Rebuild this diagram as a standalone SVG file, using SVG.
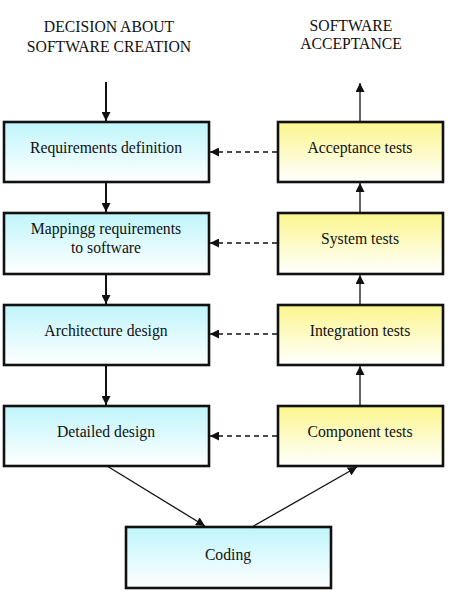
<svg xmlns="http://www.w3.org/2000/svg" width="452" height="592" viewBox="0 0 452 592">
<style>
text{fill:#111;text-anchor:middle}
.t{font-size:15.7px}
.h{font-size:15.7px}
.bl{fill:url(#gb);stroke:#111;stroke-width:2.6}
.yl{fill:url(#gy);stroke:#111;stroke-width:2.6}
.sol{stroke:#111;stroke-width:2;fill:none}
.thin{stroke:#111;stroke-width:1.3;fill:none}
.dash{stroke:#111;stroke-width:1.5;stroke-dasharray:5,4;fill:none}
</style>
<defs>
<linearGradient id="gb" x1="0" y1="0" x2="0" y2="1"><stop offset="0" stop-color="#bff5fb"/><stop offset="1" stop-color="#ffffff"/></linearGradient>
<linearGradient id="gy" x1="0" y1="0" x2="0" y2="1"><stop offset="0" stop-color="#fbf68c"/><stop offset="1" stop-color="#ffffff"/></linearGradient>
<marker id="ah" viewBox="0 0 10 10" refX="10" refY="5" markerWidth="9" markerHeight="9" markerUnits="userSpaceOnUse" orient="auto"><path d="M0,0 L10,5 L0,10 z" fill="#111"/></marker>
</defs>
<rect width="452" height="592" fill="#fff"/>
<g font-family="Liberation Serif, DejaVu Serif, serif">
<g id="titles">
<text class="h" x="109" y="32">DECISION ABOUT</text>
<text class="h" x="109" y="52">SOFTWARE CREATION</text>
<text class="h" x="351" y="31">SOFTWARE</text>
<text class="h" x="351" y="49">ACCEPTANCE</text>
</g>
<g id="connectors">
<line class="sol" x1="106" y1="82" x2="106" y2="121" marker-end="url(#ah)"/>
<line class="sol" x1="106" y1="182" x2="106" y2="212" marker-end="url(#ah)"/>
<line class="sol" x1="106" y1="274" x2="106" y2="304" marker-end="url(#ah)"/>
<line class="sol" x1="106" y1="365" x2="106" y2="405" marker-end="url(#ah)"/>
<line class="thin" x1="107" y1="466" x2="205" y2="526" marker-end="url(#ah)"/>
<line class="thin" x1="252" y1="527" x2="357" y2="467" marker-end="url(#ah)"/>
<line class="thin" x1="360" y1="406" x2="360" y2="366" marker-end="url(#ah)"/>
<line class="thin" x1="360" y1="305" x2="360" y2="275" marker-end="url(#ah)"/>
<line class="thin" x1="360" y1="213" x2="360" y2="183" marker-end="url(#ah)"/>
<line class="thin" x1="360" y1="122" x2="360" y2="83" marker-end="url(#ah)"/>
<line class="dash" x1="277" y1="152" x2="210" y2="152" marker-end="url(#ah)"/>
<line class="dash" x1="277" y1="243" x2="210" y2="243" marker-end="url(#ah)"/>
<line class="dash" x1="277" y1="334" x2="210" y2="334" marker-end="url(#ah)"/>
<line class="dash" x1="277" y1="436" x2="210" y2="436" marker-end="url(#ah)"/>
</g>
<g id="req"><rect class="bl" x="4" y="122" width="205" height="60"/><text class="t" x="106" y="153">Requirements definition</text></g>
<g id="map"><rect class="bl" x="4" y="213" width="205" height="61"/><text class="t" x="106" y="234">Mappingg requirements</text><text class="t" x="106" y="253">to software</text></g>
<g id="arch"><rect class="bl" x="4" y="305" width="205" height="60"/><text class="t" x="106" y="336">Architecture design</text></g>
<g id="det"><rect class="bl" x="4" y="406" width="205" height="60"/><text class="t" x="106" y="437">Detailed design</text></g>
<g id="coding"><rect class="bl" x="126" y="527" width="205" height="61"/><text class="t" x="228" y="560">Coding</text></g>
<g id="acc"><rect class="yl" x="278" y="122" width="165" height="60"/><text class="t" x="360" y="153">Acceptance tests</text></g>
<g id="sys"><rect class="yl" x="278" y="213" width="165" height="61"/><text class="t" x="360" y="244">System tests</text></g>
<g id="int"><rect class="yl" x="278" y="305" width="165" height="60"/><text class="t" x="360" y="336">Integration tests</text></g>
<g id="comp"><rect class="yl" x="278" y="406" width="165" height="60"/><text class="t" x="360" y="437">Component tests</text></g>
</g>
</svg>
